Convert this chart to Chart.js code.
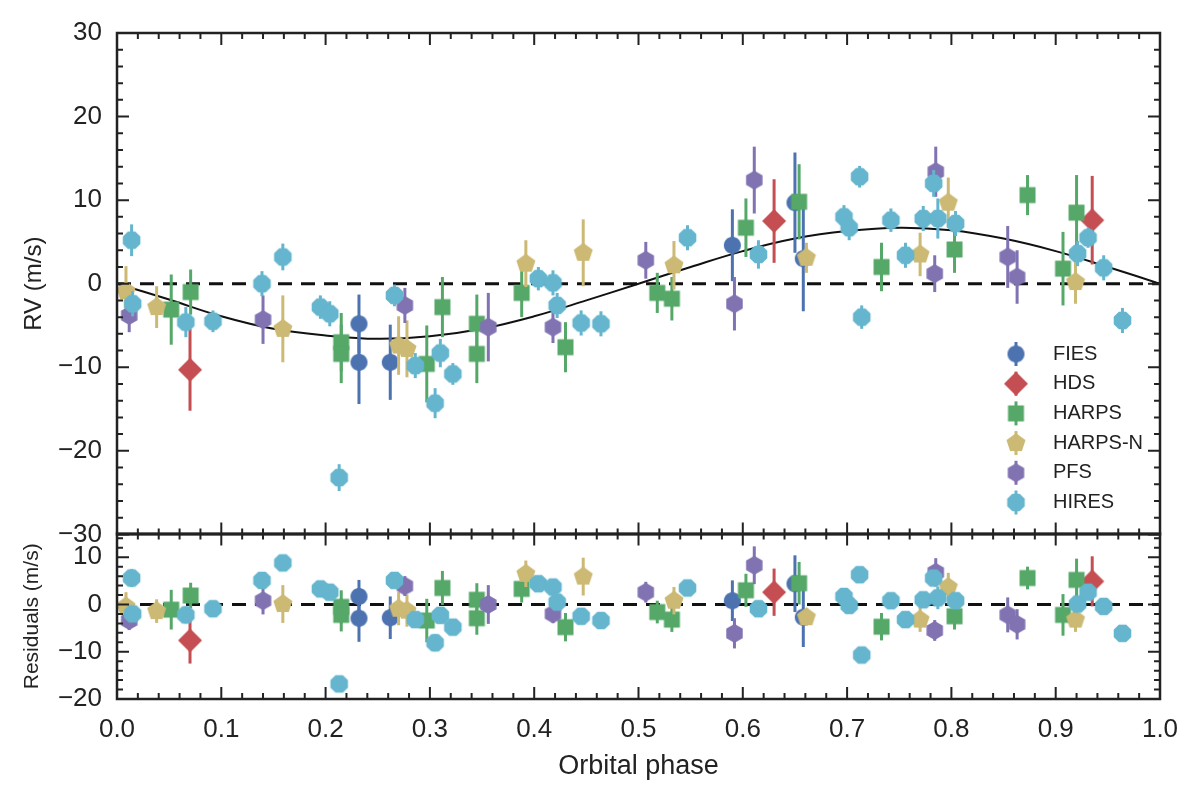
<!DOCTYPE html>
<html>
<head>
<meta charset="utf-8">
<script src="https://cdn.jsdelivr.net/npm/chart.js@4.4.0/dist/chart.umd.min.js"></script>
<style>
    body { margin: 0; background: #fff; width: 1200px; height: 797px; position: relative; overflow: hidden; }
    canvas { position: absolute; left: 0; }
    #rv { top: 0; }
    #res { top: 503px; }
</style>
</head>
<body>
<canvas id="rv" width="1200" height="565"></canvas>
<canvas id="res" width="1200" height="294"></canvas>
<script>
/* data */
const instruments = ['FIES', 'HDS', 'HARPS', 'HARPS-N', 'PFS', 'HIRES'];
const colors = ['#4C72B0', '#C44E52', '#55A868', '#CCB974', '#8172B2', '#64B5CD'];

const fiesPhase = [0.232, 0.232, 0.262, 0.590, 0.650, 0.658];
const fiesRv    = [-4.8, -9.4, -9.4, 4.6, 9.7, 3.0];
const fiesErr   = [3.5, 5.0, 4.5, 4.3, 6.0, 6.3];
const fiesRes   = [1.7, -2.9, -2.8, 0.8, 4.4, -2.7];

const hdsPhase = [0.070, 0.630, 0.935];
const hdsRv    = [-10.3, 7.5, 7.6];
const hdsErr   = [4.9, 5.0, 5.3];
const hdsRes   = [-7.6, 2.6, 4.9];

const harpsPhase = [0.052, 0.0706, 0.215, 0.215, 0.297, 0.312, 0.345, 0.345, 0.388, 0.430, 0.518, 0.532, 0.603, 0.654, 0.733, 0.803, 0.873, 0.907, 0.920];
const harpsRv    = [-3.1, -1.0, -7.0, -8.4, -9.6, -2.8, -4.8, -8.4, -1.1, -7.6, -1.1, -1.8, 6.7, 9.8, 2.0, 4.1, 10.6, 1.8, 8.5];
const harpsErr   = [4.2, 2.7, 3.5, 3.5, 4.6, 3.6, 3.5, 3.5, 2.9, 3.0, 2.4, 2.6, 3.5, 4.5, 2.9, 2.8, 2.4, 4.4, 4.5];
const harpsRes   = [-1.1, 1.9, -0.5, -2.2, -3.4, 3.5, 1.0, -2.9, 3.3, -4.8, -1.6, -3.2, 3.0, 4.5, -4.7, -2.5, 5.6, -2.2, 5.2];

const harpsnPhase = [0.0086, 0.038, 0.159, 0.270, 0.278, 0.392, 0.447, 0.534, 0.661, 0.770, 0.797, 0.919];
const harpsnRv    = [-0.9, -2.8, -5.4, -7.4, -7.8, 2.4, 3.7, 2.2, 3.1, 3.5, 9.7, 0.2];
const harpsnErr   = [3.0, 2.5, 4.0, 3.5, 3.4, 2.8, 4.0, 2.9, 1.8, 2.6, 3.0, 2.6];
const harpsnRes   = [-0.4, -1.4, 0.1, -0.9, -1.3, 6.5, 5.9, 0.8, -2.7, -3.2, 3.7, -3.2];

const pfsPhase = [0.0117, 0.140, 0.276, 0.356, 0.418, 0.507, 0.592, 0.611, 0.784, 0.785, 0.854, 0.863];
const pfsRv    = [-3.8, -4.3, -2.6, -5.2, -5.2, 2.8, -2.4, 12.4, 1.2, 13.4, 3.2, 0.8];
const pfsErr   = [2.0, 2.9, 2.1, 4.1, 1.9, 2.2, 3.2, 4.0, 2.2, 3.0, 3.7, 3.2];
const pfsRes   = [-3.4, 0.8, 3.9, 0.0, -2.0, 2.6, -6.1, 8.3, -5.5, 6.8, -2.2, -4.2];

const hiresPhase = [0.014, 0.015, 0.066, 0.092, 0.139, 0.159, 0.195, 0.204, 0.213, 0.266, 0.286, 0.305, 0.310, 0.322, 0.404, 0.418, 0.422, 0.445, 0.464, 0.547, 0.615, 0.697, 0.702, 0.712, 0.714, 0.742, 0.756, 0.773, 0.783, 0.787, 0.804, 0.921, 0.931, 0.946, 0.964];
const hiresRv    = [5.2, -2.4, -4.6, -4.5, 0.0, 3.2, -2.8, -3.6, -23.2, -1.4, -9.8, -14.3, -8.3, -10.8, 0.6, 0.1, -2.6, -4.7, -4.8, 5.5, 3.5, 8.0, 6.7, 12.8, -4.0, 7.6, 3.4, 7.8, 12.0, 7.8, 7.2, 3.6, 5.5, 1.9, -4.4];
const hiresErr   = [1.9, 1.5, 1.8, 1.3, 1.5, 1.6, 1.4, 1.5, 1.6, 1.3, 1.5, 1.8, 1.7, 1.3, 1.4, 1.5, 1.5, 1.5, 1.5, 1.5, 1.7, 1.4, 1.5, 1.3, 1.4, 1.4, 1.5, 1.5, 1.6, 2.4, 1.5, 1.5, 1.2, 1.5, 1.5];
const hiresRes   = [5.6, -2.0, -2.2, -0.9, 5.1, 8.8, 3.3, 2.6, -16.8, 5.1, -3.2, -8.1, -2.3, -4.8, 4.4, 3.7, 0.5, -2.5, -3.4, 3.5, -0.9, 1.7, -0.2, 6.3, -10.7, 0.8, -3.2, 1.0, 5.6, 1.4, 0.8, 0.1, 2.6, -0.4, -6.1];

const modelPhase = [0, 0.05, 0.1, 0.15, 0.2, 0.25, 0.3, 0.35, 0.4, 0.45, 0.5, 0.55, 0.6, 0.65, 0.7, 0.75, 0.8, 0.85, 0.9, 0.95, 1.0];
const modelRv    = [0, -1.9, -3.9, -5.4, -6.2, -6.6, -6.3, -5.4, -3.9, -2.0, 0, 2.0, 3.9, 5.4, 6.3, 6.7, 6.4, 5.4, 3.9, 2.0, 0];

const xTicks = [0, 0.1, 0.2, 0.3, 0.4, 0.5, 0.6, 0.7, 0.8, 0.9, 1.0];
const rvTicks = [-30, -20, -10, 0, 10, 20, 30];
const resTicks = [-20, -10, 0, 10];

const FONT = 'Liberation Sans, Arial, sans-serif';
const INK = '#222';

// marker shapes, drawn once to small canvases
function marker(sides, r, color, rot) {
    const size = Math.ceil(r * 2 + 2);
    const c = document.createElement('canvas');
    c.width = size;
    c.height = size;
    const g = c.getContext('2d');
    g.fillStyle = color;
    g.beginPath();
    for (let k = 0; k < sides; k++) {
        const t = rot + 2 * Math.PI * k / sides;
        g.lineTo(size / 2 + r * Math.cos(t), size / 2 + r * Math.sin(t));
    }
    g.closePath();
    g.fill();
    return c;
}

const markers = [
    marker(40, 8.5, colors[0], 0),
    marker(4, 12, colors[1], 0),
    marker(4, 11.3, colors[2], Math.PI / 4),
    marker(5, 10, colors[3], -Math.PI / 2),
    marker(6, 9.5, colors[4], -Math.PI / 2),
    marker(8, 9.5, colors[5], Math.PI / 8)
];

const phases = [fiesPhase, hdsPhase, harpsPhase, harpsnPhase, pfsPhase, hiresPhase];
const rvs = [fiesRv, hdsRv, harpsRv, harpsnRv, pfsRv, hiresRv];
const errs = [fiesErr, hdsErr, harpsErr, harpsnErr, pfsErr, hiresErr];
const resids = [fiesRes, hdsRes, harpsRes, harpsnRes, pfsRes, hiresRes];

function pointSets(values) {
    return instruments.map((name, i) => ({
        label: name,
        data: phases[i].map((p, j) => ({ x: p, y: values[i][j] })),
        errors: errs[i],
        borderColor: colors[i],
        backgroundColor: colors[i],
        pointStyle: markers[i],
        pointRadius: 9,
        showLine: false,
        order: 6 - i
    }));
}

function zeroLine() {
    return {
        type: 'line',
        data: [{ x: 0, y: 0 }, { x: 1, y: 0 }],
        borderColor: '#111',
        borderWidth: 3,
        borderDash: [14, 9],
        pointRadius: 0,
        order: 20
    };
}

const fmt = v => (v < 0 ? '\u2212' : '') + Math.abs(v);

// error bars, frame and inward ticks
const framePlugin = {
    id: 'frame',
    beforeDatasetDraw(chart, args) {
        const ds = chart.data.datasets[args.index];
        if (!ds.errors) return;
        const ctx = chart.ctx;
        const y = chart.scales.y;
        ctx.save();
        ctx.strokeStyle = ds.borderColor;
        ctx.lineWidth = 3;
        args.meta.data.forEach((el, j) => {
            const v = ds.data[j].y;
            ctx.beginPath();
            ctx.moveTo(el.x, y.getPixelForValue(v - ds.errors[j]));
            ctx.lineTo(el.x, y.getPixelForValue(v + ds.errors[j]));
            ctx.stroke();
        });
        ctx.restore();
    },
    afterDraw(chart) {
        const ctx = chart.ctx;
        const a = chart.chartArea;
        const xs = chart.scales.x;
        const ys = chart.scales.y;
        ctx.save();
        ctx.strokeStyle = INK;
        ctx.lineWidth = 2;
        ctx.beginPath();
        for (let k = 0; k <= 50; k++) {
            const px = xs.getPixelForValue(k / 50);
            const len = k % 5 === 0 ? 12 : 6;
            ctx.moveTo(px, a.bottom); ctx.lineTo(px, a.bottom - len);
            ctx.moveTo(px, a.top); ctx.lineTo(px, a.top + len);
        }
        for (let v = Math.ceil(ys.min); v <= ys.max; v++) {
            if (v % 2 !== 0) continue;
            const py = ys.getPixelForValue(v);
            const len = v % 10 === 0 ? 12 : 6;
            ctx.moveTo(a.left, py); ctx.lineTo(a.left + len, py);
            ctx.moveTo(a.right, py); ctx.lineTo(a.right - len, py);
        }
        ctx.stroke();
        ctx.lineWidth = 2.5;
        ctx.strokeRect(a.left, a.top, a.right - a.left, a.bottom - a.top);
        ctx.restore();
    }
};

const legendPlugin = {
    id: 'innerLegend',
    afterDraw(chart) {
        const ctx = chart.ctx;
        ctx.save();
        ctx.font = '20px ' + FONT;
        ctx.fillStyle = INK;
        ctx.textBaseline = 'middle';
        instruments.forEach((name, i) => {
            const y = 354 + i * 29.7;
            ctx.strokeStyle = colors[i];
            ctx.lineWidth = 3;
            ctx.beginPath();
            ctx.moveTo(1016, y - 12);
            ctx.lineTo(1016, y + 12);
            ctx.stroke();
            const m = markers[i];
            ctx.drawImage(m, 1016 - m.width / 2, y - m.height / 2);
            ctx.fillText(name, 1053, y);
        });
        ctx.restore();
    }
};

const tickFont = { size: 26, family: FONT };

new Chart(document.getElementById('rv'), {
    type: 'scatter',
    data: {
        datasets: [
            ...pointSets(rvs),
            zeroLine(),
            {
                type: 'line',
                data: modelPhase.map((p, j) => ({ x: p, y: modelRv[j] })),
                borderColor: '#111',
                borderWidth: 2,
                pointRadius: 0,
                tension: 0.4,
                order: 21
            }
        ]
    },
    options: {
        responsive: false,
        animation: false,
        layout: { padding: { top: 33, right: 40, bottom: 6, left: 0 } },
        plugins: { legend: { display: false }, tooltip: { enabled: false } },
        scales: {
            x: { type: 'linear', min: 0, max: 1, display: false },
            y: {
                min: -30,
                max: 30,
                afterBuildTicks: s => { s.ticks = rvTicks.map(v => ({ value: v })); },
                afterFit: s => { s.width = 117; },
                grid: { display: false, drawTicks: false },
                border: { display: false },
                ticks: { font: tickFont, color: INK, padding: 15, callback: fmt },
                title: { display: true, text: 'RV (m/s)', font: { size: 24, family: FONT }, color: INK, padding: { top: 20, bottom: 0 } }
            }
        }
    },
    plugins: [framePlugin, legendPlugin]
});

new Chart(document.getElementById('res'), {
    type: 'scatter',
    data: {
        datasets: [...pointSets(resids), zeroLine()]
    },
    options: {
        responsive: false,
        animation: false,
        layout: { padding: { top: 13, right: 40, bottom: 0, left: 0 } },
        plugins: { legend: { display: false }, tooltip: { enabled: false } },
        scales: {
            x: {
                type: 'linear',
                min: 0,
                max: 1,
                afterBuildTicks: s => { s.ticks = xTicks.map(v => ({ value: v })); },
                afterFit: s => { s.height = 98; },
                grid: { display: false, drawTicks: false },
                border: { display: false },
                ticks: { font: tickFont, color: INK, padding: 15, maxRotation: 0, callback: v => v.toFixed(1) },
                title: { display: true, text: 'Orbital phase', font: { size: 27, family: FONT }, color: INK, padding: { top: 0, bottom: 14 } }
            },
            y: {
                min: -20,
                max: 15,
                afterBuildTicks: s => { s.ticks = resTicks.map(v => ({ value: v })); },
                afterFit: s => { s.width = 117; },
                grid: { display: false, drawTicks: false },
                border: { display: false },
                ticks: { font: tickFont, color: INK, padding: 15, callback: fmt },
                title: { display: true, text: 'Residuals (m/s)', font: { size: 21, family: FONT }, color: INK, padding: { top: 20, bottom: 0 } }
            }
        }
    },
    plugins: [framePlugin]
});
</script>
</body>
</html>
